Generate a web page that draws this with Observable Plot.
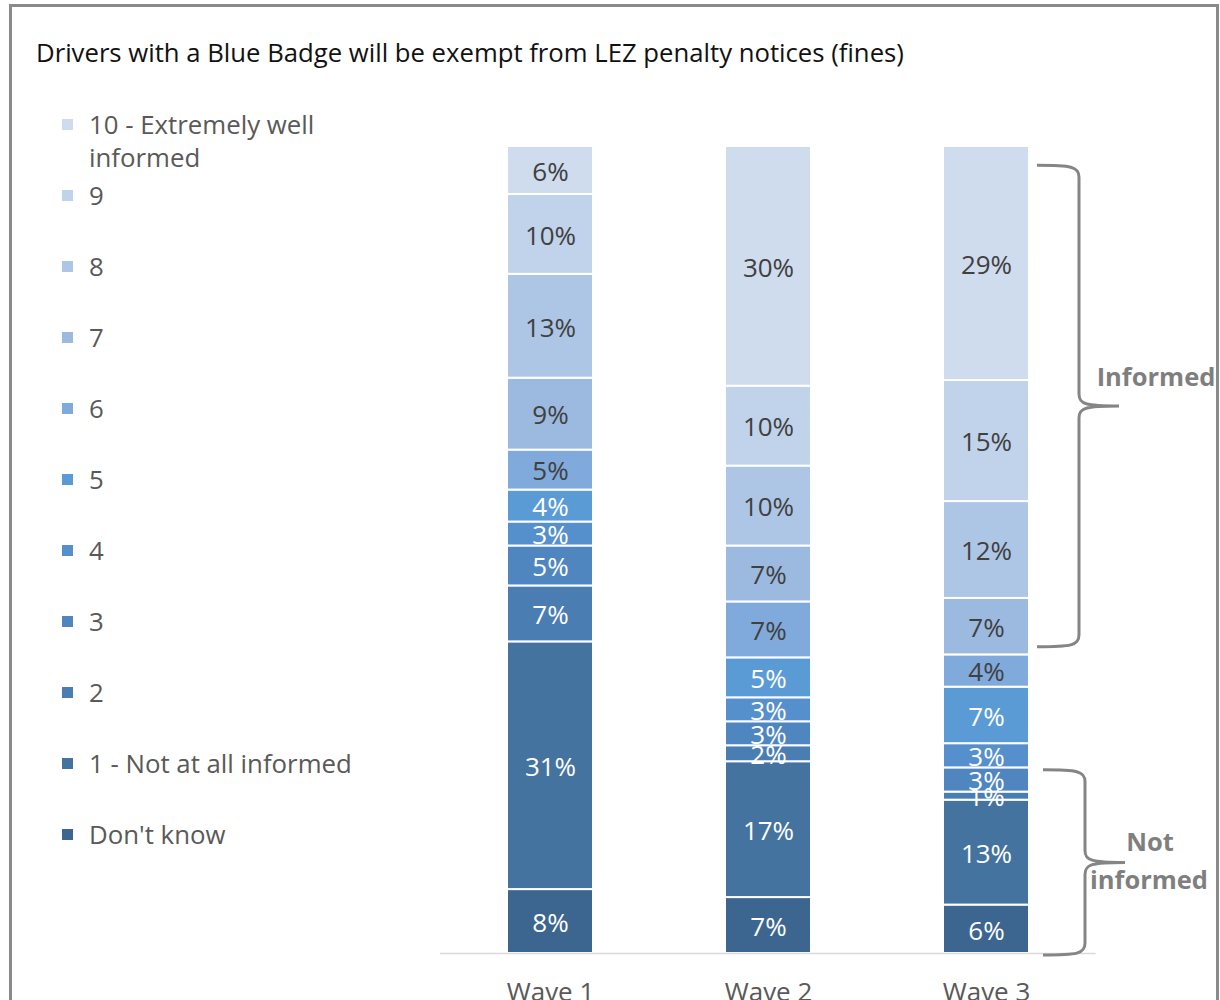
<!DOCTYPE html>
<html>
<head>
<meta charset="utf-8">
<script src="https://cdn.jsdelivr.net/npm/d3@7"></script>
<script src="https://cdn.jsdelivr.net/npm/@observablehq/plot@0.6"></script>
<style>
  html, body { margin: 0; padding: 0; background: #fff; overflow: hidden; }
  #wrap { position: relative; width: 1220px; height: 1000px; overflow: hidden; font-family: "Open Sans", sans-serif; }
  #frame { position: absolute; left: 9px; top: 4px; width: 1210px; height: 1100px; border: 3px solid #8a8a8a; box-sizing: border-box; }
  #title { position: absolute; left: 36px; top: 36px; font-size: 25.7px; color: #111; white-space: nowrap; line-height: 34px; }
  #legend { position: absolute; left: 62px; top: 108px; width: 330px; }
  .item { position: relative; height: 71px; }
  .sw { position: absolute; left: 0; top: 11px; width: 11px; height: 11px; }
  .lab { position: absolute; left: 27px; top: 0; width: 290px; font-size: 25.8px; line-height: 33px; color: #595959; }
  #chart { position: absolute; left: 0; top: 0; }
</style>
</head>
<body>
<div id="wrap">
  <div id="frame"></div>
  <div id="title"></div>
  <div id="legend"></div>
  <div id="chart"></div>
</div>
<script>
const title = "Drivers with a Blue Badge will be exempt from LEZ penalty notices (fines)";
const waves = ["Wave 1", "Wave 2", "Wave 3"];
// stacking order, bottom to top
const categories = ["Don't know", "1 - Not at all informed", "2", "3", "4", "5", "6", "7", "8", "9", "10 - Extremely well informed"];
const wave1 = [8, 31, 7, 5, 3, 4, 5, 9, 13, 10, 6];
const wave2 = [7, 17, 2, 3, 3, 5, 7, 7, 10, 10, 30];
const wave3 = [6, 13, 1, 3, 3, 7, 4, 7, 12, 15, 29];
const colors = ["#3c668f", "#44739f", "#4a7db1", "#4f86c0", "#5590cc", "#5b9bd5", "#80aadb", "#9cbae0", "#aec6e6", "#c0d3eb", "#cfdcee"];
const darkLabelCategories = ["6", "7", "8", "9", "10 - Extremely well informed"];
// annotation brackets (share of the bar, 0..1)
const bracketLabels = [["Informed"], ["Not", "informed"]];
const bracketFrom = [0.976, 0.227];
const bracketTo = [0.382, 0.0];

const series = [wave1, wave2, wave3];
const data = [];
waves.forEach((w, wi) => categories.forEach((c, ci) => data.push({wave: w, cat: c, value: series[wi][ci]})));

document.getElementById("title").textContent = title;

// legend (top to bottom: 10 ... Don't know)
const legend = d3.select("#legend");
categories.slice().reverse().forEach(c => {
  const idx = categories.indexOf(c);
  const it = legend.append("div").attr("class", "item");
  it.append("div").attr("class", "sw").style("background", colors[idx]);
  it.append("div").attr("class", "lab").text(c);
});

const stackOpts = {x: "wave", y: "value", z: "cat", offset: "normalize"};
const isDark = d => darkLabelCategories.includes(d.cat);
const chart = Plot.plot({
  width: 1220,
  height: 1000,
  marginLeft: 440,
  marginRight: 124.5,
  marginTop: 146,
  marginBottom: 47,
  style: {fontFamily: "Open Sans", fontSize: "26px", color: "#595959", background: "transparent", overflow: "visible"},
  x: {domain: waves, paddingInner: 0.606, paddingOuter: 0.303, tickSize: 0, tickPadding: 29, label: null},
  y: {axis: null, domain: [0, 1]},
  color: {domain: categories, range: colors},
  marks: [
    Plot.barY(data, Plot.stackY({...stackOpts, fill: "cat", stroke: "white", strokeWidth: 2})),
    Plot.ruleY([0], {stroke: "#d9d9d9", strokeWidth: 1.5}),
    Plot.text(data, Plot.stackY({...stackOpts, text: d => isDark(d) ? d.value + "%" : null, fill: "#404040", fontSize: 26, dy: 2})),
    Plot.text(data, Plot.stackY({...stackOpts, text: d => isDark(d) ? null : d.value + "%", fill: "white", fontSize: 26, dy: 2}))
  ]
});
document.getElementById("chart").appendChild(chart);

// brackets drawn with the chart's own scales
const sx = chart.scale("x"), sy = chart.scale("y");
const right = sx.apply("Wave 3") + sx.bandwidth;
const svg = d3.select(chart);
const g = svg.append("g").attr("fill", "none");
bracketLabels.forEach((lines, i) => {
  const yT = sy.apply(bracketFrom[i]), yB = sy.apply(bracketTo[i]) + 2;
  const yM = (yT + yB) / 2;
  const off = i === 0 ? 0 : 6;
  const xs = right + 8 + off, xv = right + 50 + off, xt = right + 90 + off;
  const p = `M${xs},${yT} C${xv - 8},${yT} ${xv},${yT + 1} ${xv},${yT + 12}
    L${xv},${yM - 12} C${xv},${yM - 2} ${xv + 6},${yM} ${xt},${yM}
    C${xv + 6},${yM} ${xv},${yM + 2} ${xv},${yM + 12}
    L${xv},${yB - 12} C${xv},${yB - 1} ${xv - 8},${yB} ${xs},${yB}`;
  g.append("path").attr("d", p).attr("stroke", "#858585").attr("stroke-width", 3);
  const t = svg.append("text")
    .attr("text-anchor", "middle")
    .attr("font-family", "Open Sans")
    .attr("font-weight", "bold")
    .attr("font-size", "25.5px")
    .attr("fill", "#7f7f7f");
  if (lines.length === 1) {
    t.append("tspan").attr("x", xt + 37).attr("y", yM - 29).attr("dy", "0.35em").text(lines[0]);
  } else {
    t.append("tspan").attr("x", xt + 25).attr("y", yM - 20).attr("dy", "0.35em").text(lines[0]);
    t.append("tspan").attr("x", xt + 24).attr("y", yM + 18).attr("dy", "0.35em").text(lines[1]);
  }
});
</script>
</body>
</html>
